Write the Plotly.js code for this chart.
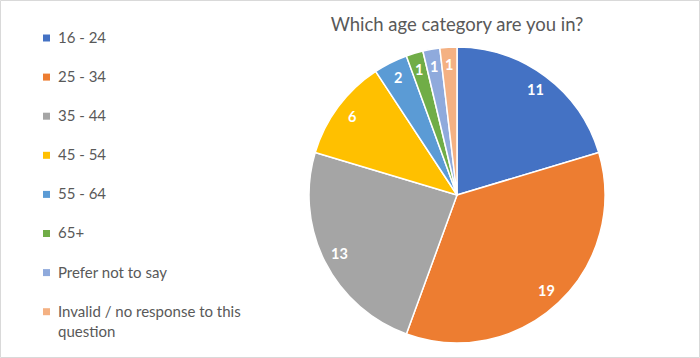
<!DOCTYPE html>
<html>
<head>
<meta charset="utf-8">
<script src="https://cdn.plot.ly/plotly-3.0.1.min.js"></script>
<style>html,body{margin:0;padding:0;background:#fff;}#chart{width:700px;height:358px;}</style>
</head>
<body>
<div id="chart"></div>
<script>
var categories = ["16 - 24", "25 - 34", "35 - 44", "45 - 54", "55 - 64", "65+", "Prefer not to say", "Invalid / no response to this question"];
var legendLabels = ["16 - 24", "25 - 34", "35 - 44", "45 - 54", "55 - 64", "65+", "Prefer not to say", "Invalid / no response to this<br>question"];
var counts = [11, 19, 13, 6, 2, 1, 1, 1];
var colors = ["#4472C4", "#ED7D31", "#A5A5A5", "#FFC000", "#5B9BD5", "#70AD47", "#8FAADC", "#F4B183"];
var chartTitle = "Which age category are you in?";

var W = 700, H = 358;
var pieCx = 457, pieCy = 195, pieR = 148;
var trace = {
  type: "pie",
  labels: categories,
  values: counts,
  sort: false,
  direction: "clockwise",
  rotation: 0,
  marker: {colors: colors, line: {color: "#ffffff", width: 1.5}},
  textinfo: "none",
  hoverinfo: "label+value",
  showlegend: false,
  domain: {x: [(pieCx - pieR) / W, (pieCx + pieR) / W], y: [(H - pieCy - pieR) / H, (H - pieCy + pieR) / H]}
};

var shapes = [{type: "rect", xref: "paper", yref: "paper", x0: 0.5 / W, x1: 1 - 0.5 / W, y0: 0.5 / H, y1: 1 - 0.5 / H, line: {color: "#d9d9d9", width: 1}, fillcolor: "rgba(0,0,0,0)"}];
var annotations = [];
var rowTop = 38, rowGap = 39.1;
for (var i = 0; i < categories.length; i++) {
  var cy = rowTop + i * rowGap;
  shapes.push({type: "rect", xref: "paper", yref: "paper",
    x0: 43 / W, x1: 50 / W, y0: (H - cy - 3.5) / H, y1: (H - cy + 3.5) / H,
    line: {width: 0}, fillcolor: colors[i]});
  annotations.push({xref: "paper", yref: "paper", x: 56 / W, y: (H - cy + 12) / H,
    xanchor: "left", yanchor: "top", align: "left", showarrow: false,
    text: legendLabels[i],
    font: {family: "Lato, sans-serif", size: 15, color: "#595959"}});
}

// data labels placed near the outer edge of each slice (derived from the values)
var total = counts.reduce(function (a, b) { return a + b; }, 0);
var cum = 0;
var labelR = 0.885 * pieR;
for (var j = 0; j < counts.length; j++) {
  var mid = (cum + counts[j] / 2) / total * 2 * Math.PI;
  cum += counts[j];
  var px = pieCx + labelR * Math.sin(mid);
  var py = pieCy - labelR * Math.cos(mid);
  annotations.push({xref: "paper", yref: "paper", x: px / W, y: (H - py) / H,
    xanchor: "center", yanchor: "middle", showarrow: false, text: String(counts[j]),
    font: {family: "Lato, sans-serif", size: 14.5, color: "#ffffff", weight: "bold"}});
}

var layout = {
  width: W, height: H,
  margin: {l: 0, r: 0, t: 0, b: 0},
  paper_bgcolor: "#ffffff",
  title: {text: chartTitle, x: 457 / W, xanchor: "center", y: (H - 25) / H, yanchor: "middle",
    font: {family: "Lato, sans-serif", size: 18.5, color: "#595959"}},
  showlegend: false,
  shapes: shapes,
  annotations: annotations
};
Plotly.newPlot("chart", [trace], layout, {displayModeBar: false, staticPlot: true});
</script>
</body>
</html>
